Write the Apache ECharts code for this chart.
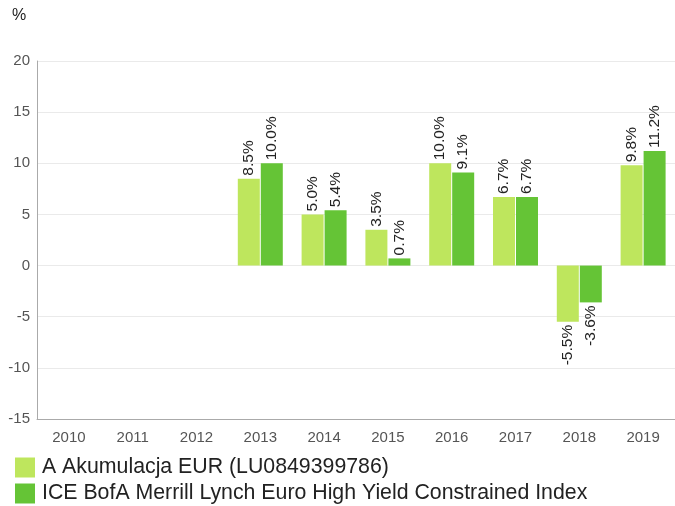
<!DOCTYPE html>
<html><head><meta charset="utf-8">
<script src="https://cdn.jsdelivr.net/npm/echarts@6/dist/echarts.min.js"></script>
<style>html,body{margin:0;padding:0;background:#fff}#c{width:675px;height:506px}</style>
</head><body><div id="c"></div>
<script>
const categories = ['2010','2011','2012','2013','2014','2015','2016','2017','2018','2019'];
const fundName = 'A Akumulacja EUR (LU0849399786)';
const indexName = 'ICE BofA Merrill Lynch Euro High Yield Constrained Index';
const fundValues = [null, null, null, 8.5, 5.0, 3.5, 10.0, 6.7, -5.5, 9.8];
const indexValues = [null, null, null, 10.0, 5.4, 0.7, 9.1, 6.7, -3.6, 11.2];

function mkData(arr){
  return arr.map(v => v == null ? null : {
    value: v,
    label: v < 0 ? {position: 'bottom', align: 'right'} : {position: 'top', align: 'left'}
  });
}
const labelCfg = {
  show: true, rotate: 90, distance: 3, verticalAlign: 'middle',
  fontFamily: 'Arial, Liberation Sans', fontSize: 15.5, color: '#222',
  formatter: p => p.value.toFixed(1) + '%'
};
const chart = echarts.init(document.getElementById('c'));
chart.setOption({
  animation: false,
  textStyle: {fontFamily: 'Arial, Liberation Sans'},
  grid: {left: 37, top: 61, width: 642, height: 358, containLabel: false},
  graphic: [{type: 'text', left: 12, top: 8, style: {text: '%', fontSize: 16, fill: '#222', fontFamily: 'Arial, Liberation Sans'}}],
  legend: {
    orient: 'vertical', left: 15, top: 457, height: 49, padding: 0, itemWidth: 20, itemHeight: 20, itemGap: 5,
    icon: 'rect', textStyle: {fontSize: 21.3, color: '#222', fontFamily: 'Arial, Liberation Sans', padding: [0,0,0,2]},
    data: [fundName, indexName]
  },
  xAxis: {
    type: 'category', data: categories,
    axisLine: {onZero: false, lineStyle: {color: '#aaa'}}, axisTick: {show: false},
    axisLabel: {fontSize: 15, color: '#555', margin: 11}
  },
  yAxis: {
    type: 'value', min: -15, max: 20, interval: 5,
    axisLine: {show: true, lineStyle: {color: '#aaa'}}, axisTick: {show: false},
    splitLine: {lineStyle: {color: '#eaeaea'}},
    axisLabel: {fontSize: 15, color: '#555', margin: 7}
  },
  series: [
    {name: fundName, type: 'bar', data: mkData(fundValues), barWidth: 22, barGap: '4.5%',
     itemStyle: {color: '#bee65d'}, label: labelCfg},
    {name: indexName, type: 'bar', data: mkData(indexValues), barWidth: 22, barGap: '4.5%',
     itemStyle: {color: '#65c436'}, label: labelCfg}
  ]
});
</script></body></html>
